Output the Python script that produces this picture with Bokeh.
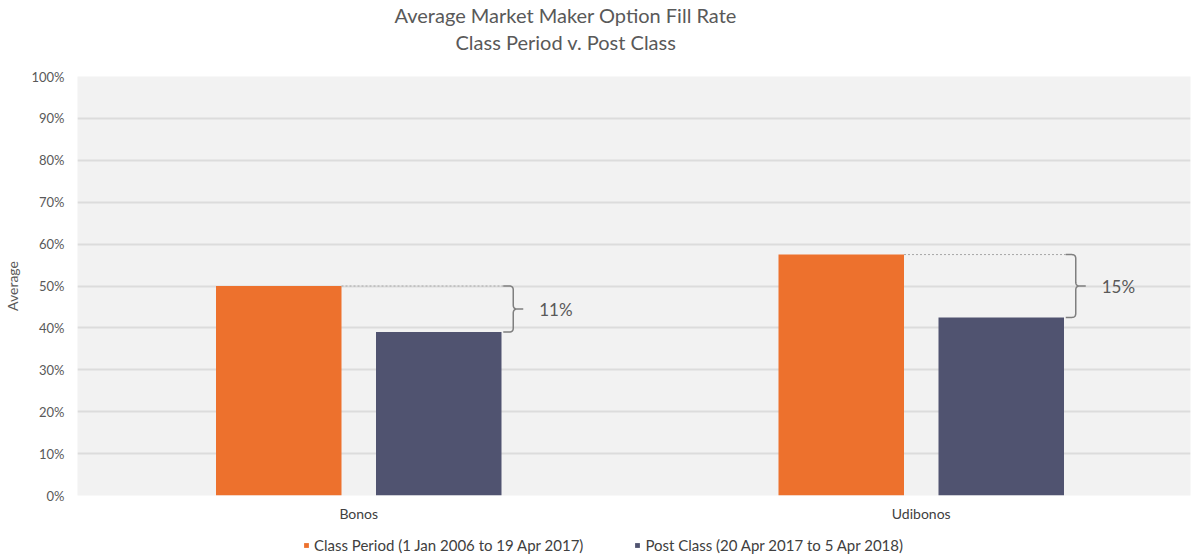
from bokeh.plotting import figure
from bokeh.layouts import column
from bokeh.models import (Range1d, FixedTicker, PrintfTickFormatter, Legend,
                          LegendItem, Title, ColumnDataSource)
from bokeh.core.properties import value
from bokeh.embed import file_html
from bokeh.resources import INLINE

# ---------------- data ----------------
categories = ["Bonos", "Udibonos"]
class_period = [50, 57.5]
post_class = [39, 42.5]
gap_labels = ["11%", "15%"]
series_names = ["Class Period (1 Jan 2006 to 19 Apr 2017)",
                "Post Class (20 Apr 2017 to 5 Apr 2018)"]
y_ticks = [0, 10, 20, 30, 40, 50, 60, 70, 80, 90, 100]
title_lines = ["Average Market Maker Option Fill Rate", "Class Period v. Post Class"]
y_label = "Average"

# ---------------- style ----------------
FONT = "Lato"
ORANGE = "#ED712D"
NAVY = "#505370"
TXT = "#595959"
W = 1191
H_MAIN, H_LEG = 530, 26
FRAME_W = 1113           # px
FRAME_H = 419            # px
CAT_PX = 562.5           # px per category
X_MAX = FRAME_W / CAT_PX
DX = 1.0 / CAT_PX        # data units per px (x)
DY = 100.0 / FRAME_H     # data units per px (y)
BAR_W = 125.5 * DX
OFF = 80 * DX

centers = [i + 0.5 for i in range(len(categories))]

p = figure(width=W, height=H_MAIN, output_backend="svg", toolbar_location=None,
           x_range=Range1d(0, X_MAX), y_range=Range1d(0, 100),
           min_border_left=77, min_border_right=1, min_border_top=76,
           min_border_bottom=35, background_fill_color="#F2F2F2",
           border_fill_color="white", outline_line_color=None)

# titles (first added is closest to the frame)
spacer = Title(text=" ", text_font_size="1px", standoff=19)
t2 = Title(text=title_lines[1], align="left", offset=378, text_font=FONT,
           text_font_size="20px", text_font_style="normal", text_color=TXT,
           standoff=2)
t1 = Title(text=title_lines[0], align="left", offset=317, text_font=FONT,
           text_font_size="20px", text_font_style="normal", text_color=TXT,
           standoff=0)
p.add_layout(spacer, "above")
p.add_layout(t2, "above")
p.add_layout(t1, "above")

# bars
src1 = ColumnDataSource(dict(x=[c - OFF for c in centers], top=class_period))
src2 = ColumnDataSource(dict(x=[c + OFF for c in centers], top=post_class))
r1 = p.vbar(x="x", top="top", width=BAR_W, source=src1, fill_color=ORANGE,
            line_color=None)
r2 = p.vbar(x="x", top="top", width=BAR_W, source=src2, fill_color=NAVY,
            line_color=None)

# brackets
def qcurve(p0, c, p1, n=8):
    pts = []
    for k in range(n + 1):
        t = k / n
        x = (1 - t) ** 2 * p0[0] + 2 * (1 - t) * t * c[0] + t ** 2 * p1[0]
        y = (1 - t) ** 2 * p0[1] + 2 * (1 - t) * t * c[1] + t ** 2 * p1[1]
        pts.append((x, y))
    return pts

ARM = 10 * DX
RX = 4 * DX
RY = 4 * DY
TIP = 10 * DX
for i, c in enumerate(centers):
    top = class_period[i]
    bot = post_class[i]
    mid = (top + bot) / 2
    xv = c + 154.5 * DX
    left_edge = c - OFF + BAR_W / 2
    # dashed connector
    p.line([left_edge, xv - ARM], [top, top], line_color="#A6A6A6",
           line_width=1, line_dash="2 2")
    pts = [(xv - ARM, top)]
    pts += qcurve((xv - RX, top), (xv, top), (xv, top - RY))
    pts += qcurve((xv, mid + RY), (xv, mid), (xv + RX, mid))
    pts += [(xv + TIP, mid)]
    pts += qcurve((xv + RX, mid), (xv, mid), (xv, mid - RY))
    pts += qcurve((xv, bot + RY), (xv, bot), (xv - RX, bot))
    pts += [(xv - ARM, bot)]
    p.line([q[0] for q in pts], [q[1] for q in pts], line_color="#7F7F7F",
           line_width=1.5)
    p.text(x=[xv + TIP + 16 * DX], y=[mid], text=[gap_labels[i]],
           text_font=value(FONT), text_font_size="17px", text_color=TXT,
           text_align="left", text_baseline="middle")

# axes
p.xaxis.ticker = FixedTicker(ticks=centers)
p.xaxis.major_label_overrides = {c: n for c, n in zip(centers, categories)}
p.xaxis.axis_line_color = None
p.xaxis.major_tick_line_color = None
p.xaxis.major_tick_out = 0
p.xaxis.major_tick_in = 0
p.xaxis.minor_tick_line_color = None
p.xaxis.major_label_standoff = 9
p.xaxis.major_label_text_font = FONT
p.xaxis.major_label_text_font_size = "14px"
p.xaxis.major_label_text_color = "#404040"

p.yaxis.ticker = FixedTicker(ticks=y_ticks)
p.yaxis.formatter = PrintfTickFormatter(format="%d%%")
p.yaxis.axis_line_color = None
p.yaxis.major_tick_line_color = None
p.yaxis.major_tick_out = 0
p.yaxis.major_tick_in = 0
p.yaxis.minor_tick_line_color = None
p.yaxis.major_label_standoff = 13
p.yaxis.major_label_text_font = FONT
p.yaxis.major_label_text_font_size = "13px"
p.yaxis.major_label_text_color = TXT
p.yaxis.axis_label = y_label
p.yaxis.axis_label_text_font = FONT
p.yaxis.axis_label_text_font_size = "14px"
p.yaxis.axis_label_text_font_style = "normal"
p.yaxis.axis_label_text_color = TXT
p.yaxis.axis_label_standoff = 7

p.xgrid.grid_line_color = None
p.ygrid.grid_line_color = "#DCDCDC"
p.ygrid.grid_line_width = 2

# legend strip (separate figure below the chart; its bars lie out of view)
p2 = figure(width=W, height=H_LEG, output_backend="svg", toolbar_location=None,
            x_range=Range1d(0, W), y_range=Range1d(1000, 1000 + H_LEG),
            x_axis_type=None, y_axis_type=None, min_border=0,
            outline_line_color=None, border_fill_color="white",
            background_fill_color="white")
g1 = p2.vbar(x="x", top="top", width=BAR_W, source=src1, fill_color=ORANGE,
             line_color=None)
g2 = p2.vbar(x="x", top="top", width=BAR_W, source=src2, fill_color=NAVY,
             line_color=None)
p2.xgrid.grid_line_color = None
p2.ygrid.grid_line_color = None
legend = Legend(items=[LegendItem(label=series_names[0], renderers=[g1]),
                       LegendItem(label=series_names[1], renderers=[g2])],
                orientation="horizontal", location=(226, 2),
                glyph_width=6, glyph_height=6, label_standoff=5, spacing=51,
                padding=0, margin=0, border_line_color=None,
                background_fill_alpha=0, label_text_font=FONT,
                label_text_font_size="15px", label_text_color="#404040",
                label_height=15)
p2.add_layout(legend, "center")

open("out.html", "w").write(file_html(column(p, p2, spacing=0), INLINE))
